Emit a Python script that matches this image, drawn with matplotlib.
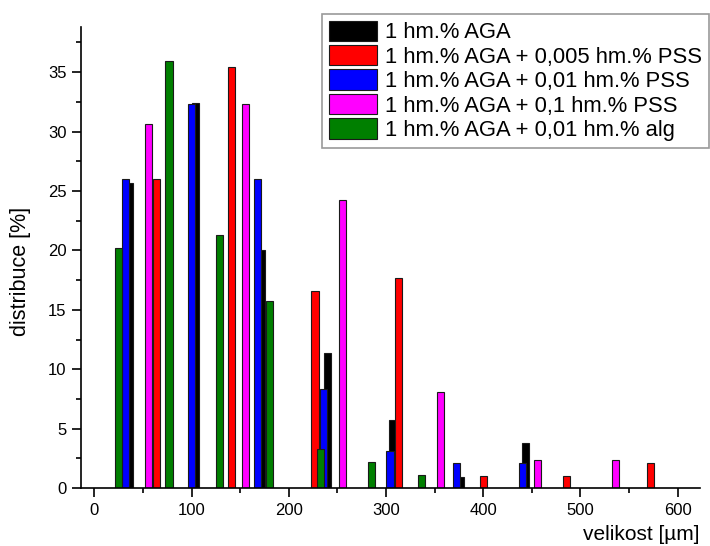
import matplotlib
matplotlib.use("Agg")
import matplotlib.pyplot as plt
from matplotlib.ticker import MultipleLocator

plt.rcParams["font.family"] = ["Liberation Sans", "DejaVu Sans"]

# series labels / colours (legend order = drawing order)
labels = [
    "1 hm.% AGA",
    "1 hm.% AGA + 0,005 hm.% PSS",
    "1 hm.% AGA + 0,01 hm.% PSS",
    "1 hm.% AGA + 0,1 hm.% PSS",
    "1 hm.% AGA + 0,01 hm.% alg",
]
colors = ["#000000", "#FF0000", "#0000FF", "#FF00FF", "#007F00"]

# bin centres [um] and distribution [%]
aga_x = [36, 104, 172, 240, 307, 376, 443.5]
aga_y = [25.7, 32.4, 20.0, 11.4, 5.7, 0.95, 3.8]

pss005_x = [64, 141, 227, 313, 400, 486, 572]
pss005_y = [26.0, 35.4, 16.6, 17.7, 1.04, 1.04, 2.07]

pss001_x = [32, 100, 168, 236, 304, 372.5, 440.5]
pss001_y = [26.0, 32.3, 26.0, 8.3, 3.1, 2.1, 2.07]

pss01_x = [55.5, 155.5, 255.5, 356, 456, 536]
pss01_y = [30.6, 32.3, 24.2, 8.05, 2.4, 2.4]

alg_x = [25, 77, 129, 180.5, 232.5, 285, 336.5]
alg_y = [20.2, 35.9, 21.3, 15.7, 3.3, 2.2, 1.1]

series = [(aga_x, aga_y), (pss005_x, pss005_y), (pss001_x, pss001_y),
          (pss01_x, pss01_y), (alg_x, alg_y)]

fig = plt.figure(figsize=(7.1, 5.46), dpi=100)
ax = fig.add_axes([0.1141, 0.1062, 0.8718, 0.8443])

handles = []
for (xs, ys), c, lab in zip(series, colors, labels):
    h = ax.bar(xs, ys, width=7.6, color=c, edgecolor="#1a1a1a",
               linewidth=0.8, label=lab)
    handles.append(h)

ax.set_xlim(-13.7, 623)
ax.set_ylim(0, 38.8)
ax.xaxis.set_major_locator(MultipleLocator(100))
ax.xaxis.set_minor_locator(MultipleLocator(50))
ax.yaxis.set_major_locator(MultipleLocator(5))
ax.yaxis.set_minor_locator(MultipleLocator(2.5))

for s in ["top", "right"]:
    ax.spines[s].set_visible(False)
for s in ["left", "bottom"]:
    ax.spines[s].set_linewidth(1.2)

ax.tick_params(which="major", length=6.5, width=1.2, labelsize=12,
               direction="out", pad=4)
ax.tick_params(which="minor", length=3.5, width=1.2, direction="out")

ax.set_ylabel("distribuce [%]", fontsize=15.5)
ax.yaxis.set_label_coords(-0.08, 0.47)
ax.set_xlabel("velikost [µm]", fontsize=15, loc="right", labelpad=5)

leg = fig.legend(handles=handles, labels=labels, loc="upper left",
                 bbox_to_anchor=(322 / 710, 1 - 14 / 546),
                 fontsize=15.8, frameon=True, fancybox=False,
                 handlelength=2.2, handleheight=1.05, handletextpad=0.38,
                 labelspacing=0.08, borderpad=0.3, borderaxespad=0)
leg.get_frame().set_edgecolor("#808080")
leg.get_frame().set_linewidth(1.2)

fig.savefig("out.png", dpi=100)
